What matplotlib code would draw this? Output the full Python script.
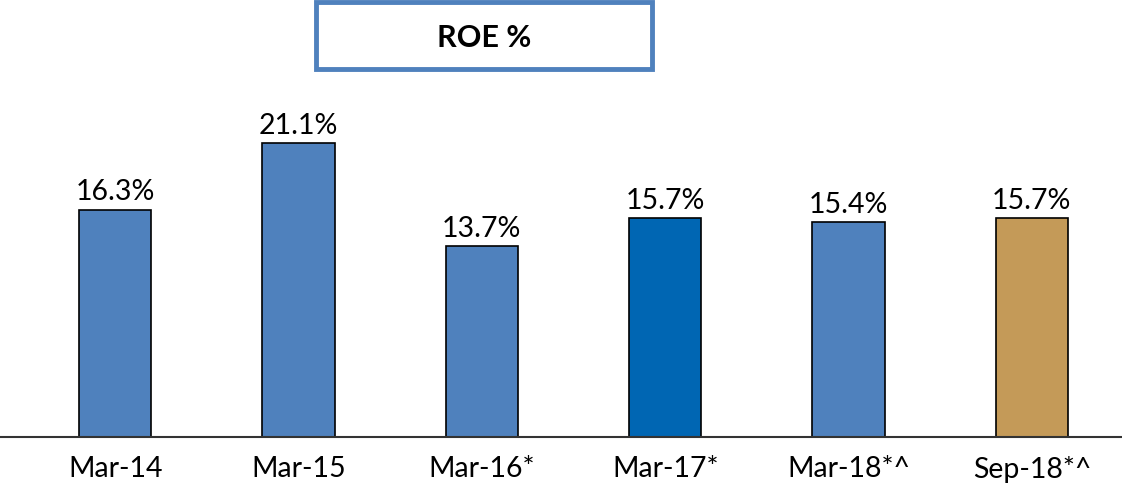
import matplotlib
matplotlib.use("Agg")
import matplotlib.pyplot as plt
from matplotlib.patches import Rectangle

# chart data
categories = ["Mar-14", "Mar-15", "Mar-16*", "Mar-17*", "Mar-18*^", "Sep-18*^"]
roe = [16.3, 21.1, 13.7, 15.7, 15.4, 15.7]
labels = ["16.3%", "21.1%", "13.7%", "15.7%", "15.4%", "15.7%"]
colors = ["#4F81BD", "#4F81BD", "#4F81BD", "#0066B3", "#4F81BD", "#C49A58"]

plt.rcParams['font.family'] = ['Lato', 'DejaVu Sans']

fig = plt.figure(figsize=(11.22, 4.89), dpi=100)
ax = fig.add_axes([0, 51 / 489, 1, 438 / 489])

x = list(range(len(categories)))
ax.bar(x, roe, width=72 / 183, color=colors, edgecolor="black", linewidth=1.2)

for xi, v, lab in zip(x, roe, labels):
    ax.annotate(lab, (xi, v), xytext=(0, 4), textcoords="offset points",
                ha="center", va="bottom", fontsize=20.5)

ax.set_xlim(-115 / 183, (1120 - 115) / 183)
ax.set_ylim(0, 438 / 13.93)
ax.set_xticks(x)
ax.set_xticklabels(categories, fontsize=20.5)
ax.tick_params(axis="x", length=0, pad=13)
ax.set_yticks([])
for s in ["top", "right", "left"]:
    ax.spines[s].set_visible(False)
ax.spines["bottom"].set_linewidth(1.5)
ax.spines["bottom"].set_color("#333333")

# title box
box = Rectangle((316 / 1122, 1 - 70 / 489), 336 / 1122, 67 / 489,
                transform=fig.transFigure, fill=False,
                edgecolor="#4F81BD", linewidth=3.5)
fig.patches.append(box)
fig.text(484 / 1122, 1 - 38 / 489, "ROE %", ha="center", va="center",
         fontsize=22, fontweight="bold")

fig.savefig("out.png", dpi=100)
